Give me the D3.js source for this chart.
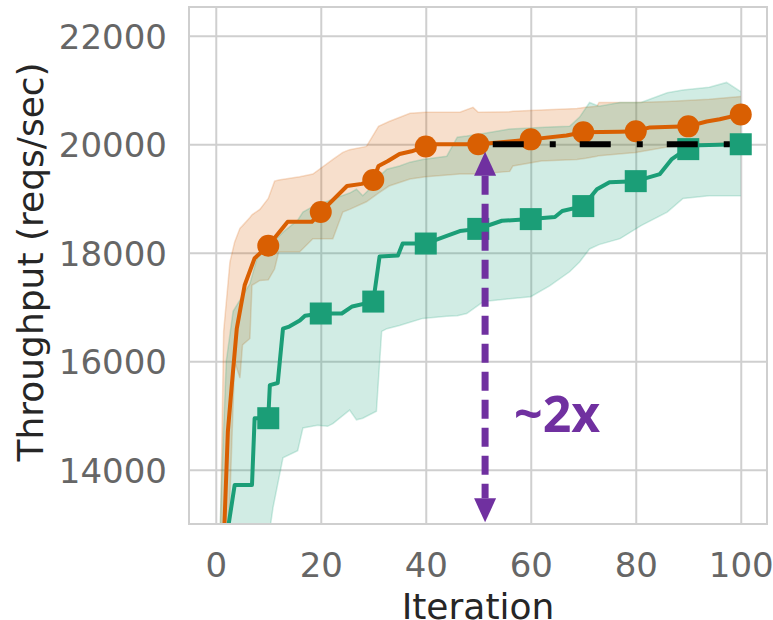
<!DOCTYPE html>
<html>
<head>
<meta charset="utf-8">
<script src="https://cdn.jsdelivr.net/npm/d3@7"></script>
<style>
  body { margin: 0; background: #fff; }
  text { font-family: 'DejaVu Sans', sans-serif; }
</style>
</head>
<body>
<svg id="chart"></svg>
<script>
// ticks
const xTicks = [0, 20, 40, 60, 80, 100];
const yTicks = [14000, 16000, 18000, 20000, 22000];

// marker positions (every 10 iterations)
const markerIters = [10, 20, 30, 40, 50, 60, 70, 80, 90, 100];
const orangeMarkers = [18130, 18750, 19340, 19960, 20000, 20090, 20220, 20240, 20330, 20550];
const greenMarkers = [14950, 16880, 17100, 18170, 18440, 18620, 18860, 19320, 19910, 20000];

// mean curves [iteration, reqs/sec]
const orangeMean = [
  [0, 8000], [1.5, 12600], [2.3, 14700], [3, 15500], [4, 16600], [5.5, 17400],
  [7.4, 17900], [10, 18130], [13.7, 18570], [18.3, 18570], [20, 18750],
  [25, 19230], [27.8, 19270], [30, 19340], [31, 19600], [32.8, 19690],
  [35, 19820], [37.3, 19870], [40, 19960], [42, 20000], [50, 20000],
  [56, 20050], [60, 20090], [66.8, 20160], [70, 20220], [77, 20230],
  [80, 20240], [82.7, 20310], [90, 20330], [93.5, 20420], [96, 20460], [100, 20550]
];
const greenMean = [
  [0, 9000], [2.3, 12900], [3.6, 13720], [6.9, 13720], [7.4, 14950], [10, 14950],
  [10.3, 15560], [11.8, 15600], [12.8, 16600], [14, 16640], [16, 16750],
  [17, 16840], [20, 16880], [24, 16880], [26, 17010], [30, 17100],
  [31.2, 17930], [34.7, 17950], [35.6, 18170], [40, 18170], [44, 18310],
  [46.5, 18400], [50, 18440], [54.5, 18590], [60, 18620], [64.6, 18660],
  [66, 18770], [70, 18860], [72.6, 19170], [75, 19300], [80, 19320],
  [84.6, 19450], [86.8, 19720], [89, 19870], [90, 19910], [92, 19980], [100, 20000]
];

// confidence bands [iteration, lower, upper]
const orangeBand = [
  [0, 7000, 9000], [0.9, 9500, 13000], [1.5, 11000, 16550], [2.7, 13500, 17830],
  [3.6, 16000, 18200], [4.6, 15690, 18450], [5.1, 16300, 18500], [6.5, 16420, 18650],
  [6.9, 17400, 18700], [8.4, 17490, 18800], [10, 17500, 19000], [11.2, 17700, 19320],
  [12, 18020, 19340], [16, 18020, 19400], [18.5, 18260, 19450], [22.3, 18260, 19720],
  [24.2, 18750, 19850], [25.5, 18800, 19900], [28.7, 18940, 19960], [31, 19100, 20330],
  [33, 19230, 20420], [37, 19360, 20570], [40, 19400, 20590], [46.5, 19450, 20590],
  [49, 19450, 20680], [50, 19450, 20590], [56, 19500, 20600], [56.6, 19600, 20610],
  [62, 19690, 20630], [68.8, 19720, 20660], [70.5, 19740, 20680], [72.6, 19780, 20700],
  [73, 19790, 20770], [80, 19850, 20770], [86, 19950, 20790], [94, 20000, 20830],
  [100, 20050, 20880]
];
const greenBand = [
  [0, 6000, 10000], [1, 8000, 13500], [2, 9500, 16000], [3.3, 10500, 16920],
  [6.5, 11500, 17430], [8, 12000, 17950], [10.3, 12900, 18100], [10.9, 13300, 18200],
  [12.8, 14220, 18380], [15.6, 14350, 18600], [16.6, 14770, 18750], [19.4, 14820, 18900],
  [21.3, 14800, 18950], [22.3, 14850, 18990], [25.5, 15100, 19100], [26.8, 14920, 19170],
  [28, 14950, 19050], [30.6, 15080, 19300], [31.6, 16550, 19450], [32.6, 16600, 19540],
  [35, 16660, 19600], [37, 16720, 19670], [39.4, 16790, 19720], [44, 16830, 19780],
  [46, 16840, 20130], [47.8, 16880, 20150], [51, 17100, 20200], [56, 17150, 20280],
  [60, 17190, 20300], [63.6, 17390, 20320], [67.4, 17650, 20330], [69.3, 17830, 20500],
  [71.2, 18070, 20770], [73, 18150, 20700], [77, 18260, 20770], [81, 18500, 20770],
  [86, 18750, 20950], [89, 19000, 21000], [94, 19050, 21050], [97.3, 19050, 21140],
  [100, 19050, 20970]
];

// annotation
const refLine = { from: 50, to: 100, value: 20000 };
const arrowIter = 51.3;
const arrowRange = [19860, 13030];
const arrowLabel = '~2x';

const width = 773;
const height = 620;
const margin = { top: 7, right: 6, bottom: 96, left: 189 };
const innerWidth = width - margin.left - margin.right;
const innerHeight = height - margin.top - margin.bottom;

const orange = '#d95f02';
const green = '#1b9e77';
const purple = '#7030a0';

const xScale = d3.scaleLinear().domain([-5.1, 105]).range([0, innerWidth]);
const yScale = d3.scaleLinear().domain([13000, 22530]).range([innerHeight, 0]);

const svg = d3.select('#chart')
  .attr('width', width)
  .attr('height', height);

svg.append('defs').append('clipPath')
  .attr('id', 'plot-clip')
  .append('rect')
  .attr('width', innerWidth)
  .attr('height', innerHeight);

const g = svg.append('g')
  .attr('transform', `translate(${margin.left}, ${margin.top})`);

// grid + tick labels
const xAxis = g.append('g')
  .attr('class', 'axis axis--x')
  .attr('transform', `translate(0, ${innerHeight})`)
  .call(d3.axisBottom(xScale)
          .tickValues(xTicks)
          .tickSizeInner(-innerHeight)
          .tickSizeOuter(0)
        );

const yAxis = g.append('g')
  .attr('class', 'axis axis--y')
  .call(d3.axisLeft(yScale)
          .tickValues(yTicks)
          .tickFormat(d3.format('d'))
          .tickSizeInner(-innerWidth)
          .tickSizeOuter(0)
          .tickPadding(22)
        );

[xAxis, yAxis].forEach((axis) => {
  axis.select('.domain').remove();
  axis.selectAll('line').attr('stroke', '#cfcfcf').attr('stroke-width', 2);
  axis.selectAll('text')
    .attr('fill', '#666')
    .style('font-size', '34px')
    .style('font-family', 'DejaVu Sans, sans-serif');
});
yAxis.selectAll('text').attr('dy', '0.36em');
xAxis.selectAll('text').attr('dy', 0).attr('y', 53);

const plot = g.append('g').attr('clip-path', 'url(#plot-clip)');

const area = d3.area()
  .x(d => xScale(d[0]))
  .y0(d => yScale(d[1]))
  .y1(d => yScale(d[2]));

const line = d3.line()
  .x(d => xScale(d[0]))
  .y(d => yScale(d[1]));

[[orangeBand, orange], [greenBand, green]].forEach(([band, color]) => {
  plot.append('path')
    .datum(band)
    .attr('fill', color)
    .attr('fill-opacity', 0.2)
    .attr('d', area);
  plot.append('path')
    .datum(band.map(d => [d[0], d[1]]))
    .attr('fill', 'none')
    .attr('stroke', color)
    .attr('stroke-opacity', 0.2)
    .attr('stroke-width', 1.5)
    .attr('d', line);
  plot.append('path')
    .datum(band.map(d => [d[0], d[2]]))
    .attr('fill', 'none')
    .attr('stroke', color)
    .attr('stroke-opacity', 0.2)
    .attr('stroke-width', 1.5)
    .attr('d', line);
});

[[orangeMean, orange], [greenMean, green]].forEach(([data, color]) => {
  plot.append('path')
    .datum(data)
    .attr('fill', 'none')
    .attr('stroke', color)
    .attr('stroke-width', 4)
    .attr('stroke-linejoin', 'round')
    .attr('d', line);
});

plot.selectAll('.dot')
  .data(markerIters.map((it, i) => [it, orangeMarkers[i]]))
  .enter().append('circle')
  .attr('class', 'dot')
  .attr('cx', d => xScale(d[0]))
  .attr('cy', d => yScale(d[1]))
  .attr('r', 11)
  .attr('fill', orange);

plot.selectAll('.sq')
  .data(markerIters.map((it, i) => [it, greenMarkers[i]]))
  .enter().append('rect')
  .attr('class', 'sq')
  .attr('x', d => xScale(d[0]) - 11)
  .attr('y', d => yScale(d[1]) - 11)
  .attr('width', 22)
  .attr('height', 22)
  .attr('fill', green);

// dash-dot reference line
plot.append('line')
  .attr('x1', xScale(refLine.from))
  .attr('x2', xScale(refLine.to))
  .attr('y1', yScale(refLine.value))
  .attr('y2', yScale(refLine.value))
  .attr('stroke', '#000')
  .attr('stroke-width', 6)
  .attr('stroke-dasharray', '31,26,6,24')
  .attr('stroke-dashoffset', 72.5);

// double-headed arrow
const ax = xScale(arrowIter);
const ayTop = yScale(arrowRange[0]);
const ayBot = yScale(arrowRange[1]);
const headLen = 24;
const headHalf = 11;

plot.append('line')
  .attr('x1', ax)
  .attr('x2', ax)
  .attr('y1', ayTop + headLen)
  .attr('y2', ayBot - headLen)
  .attr('stroke', purple)
  .attr('stroke-width', 7)
  .attr('stroke-dasharray', '19,9');

plot.append('path')
  .attr('fill', purple)
  .attr('d', `M${ax},${ayTop} L${ax - headHalf},${ayTop + headLen} L${ax + headHalf},${ayTop + headLen} Z`);

plot.append('path')
  .attr('fill', purple)
  .attr('d', `M${ax},${ayBot} L${ax - headHalf},${ayBot - headLen} L${ax + headHalf},${ayBot - headLen} Z`);

g.append('text')
  .attr('x', xScale(arrowIter) + 72)
  .attr('y', yScale(14690))
  .attr('text-anchor', 'middle')
  .attr('fill', purple)
  .style('font-family', 'Noto Sans, sans-serif')
  .style('font-weight', 'bold')
  .style('font-size', '50px')
  .text(arrowLabel);

// frame
g.append('rect')
  .attr('width', innerWidth)
  .attr('height', innerHeight)
  .attr('fill', 'none')
  .attr('stroke', '#cfcfcf')
  .attr('stroke-width', 2);

// axis titles
svg.append('text')
  .attr('x', margin.left + innerWidth / 2)
  .attr('y', 619)
  .attr('text-anchor', 'middle')
  .attr('fill', '#262626')
  .style('font-size', '36px')
  .text('Iteration');

svg.append('text')
  .attr('transform', `translate(43, 262) rotate(-90)`)
  .attr('text-anchor', 'middle')
  .attr('fill', '#262626')
  .style('font-size', '36px')
  .text('Throughput (reqs/sec)');
</script>
</body>
</html>
